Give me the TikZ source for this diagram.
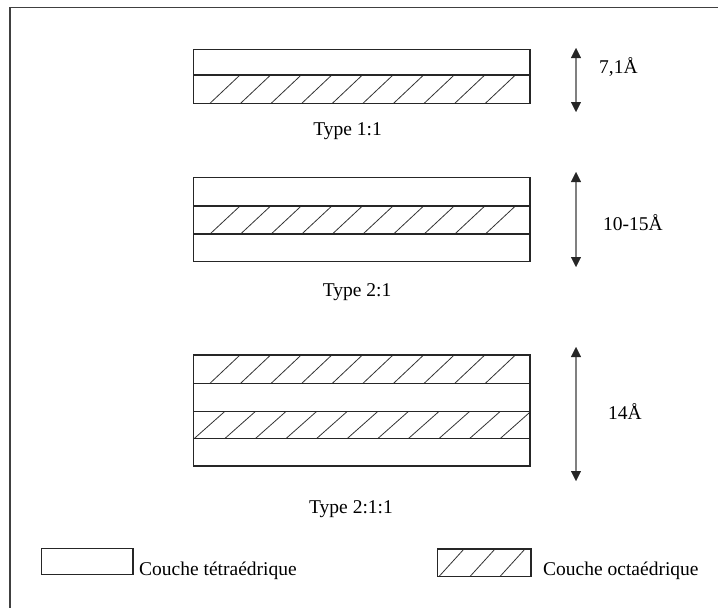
\documentclass[tikz,border=0pt]{standalone}
\usepackage{fontspec}
\setmainfont{Liberation Serif}
\usetikzlibrary{arrows.meta}
\begin{document}
\begin{tikzpicture}[x=1pt,y=-1pt,
  frameline/.style={line width=1.5pt,draw=black!75},
  layer/.style={line width=1.1pt,draw=black!85},
  hatch/.style={line width=0.8pt,draw=black!80},
  thick/.style={line width=1.3pt,draw=black!85},
  dimarrow/.style={line width=1.3pt,draw=black!50,
    {Triangle[length=10pt,width=10pt,color=black!85,line width=0.4pt]}-{Triangle[length=10pt,width=10pt,color=black!85,line width=0.4pt]}},
  lbl/.style={font=\fontsize{19.5}{22}\selectfont,inner sep=0pt,anchor=base}]
\useasboundingbox (0,0) rectangle (718,608);

% open frame: left and top sides only
\draw[frameline] (10,608) -- (10,7.5) -- (718,7.5);

% hatched strip: #1 = y top, #2 = y bottom, #3 = first foot x, #4 = last index
\newcommand{\hatchstrip}[4]{%
  \foreach \i in {0,...,#4}
    \draw[hatch] ({#3+30.6*\i},#2) -- ({#3+30.6*\i+30},#1);}

% ---- Type 1:1 ----
\hatchstrip{75}{103.3}{210}{9}
\draw[layer] (193.5,49.5) rectangle (530,103.3);
\draw[layer] (193.5,75) -- (530,75);
\coordinate (a1t) at (576,48);
\coordinate (a1b) at (576,112);
\draw[dimarrow] (a1t) -- (a1b);
\node[lbl,anchor=base west] (d1) at (599,73) {7,1Å};
\node[lbl] (t1) at (347.5,135) {Type 1:1};

% ---- Type 2:1 ----
\hatchstrip{206}{234}{210}{9}
\draw[layer] (193.5,177.7) rectangle (530,261.5);
\draw[layer] (193.5,206) -- (530,206);
\draw[layer] (193.5,234) -- (530,234);
\coordinate (a2t) at (576,172);
\coordinate (a2b) at (576,267);
\draw[dimarrow] (a2t) -- (a2b);
\node[lbl,anchor=base west] (d2) at (603,230) {10-15Å};
\node[lbl] (t2) at (357,296) {Type 2:1};

% ---- Type 2:1:1 ----
\hatchstrip{355}{383.3}{210}{9}
\hatchstrip{411.7}{438.3}{194.5}{10}
\draw[layer] (193.5,355) rectangle (530,466);
\draw[layer] (193.5,383.3) -- (530,383.3);
\draw[layer] (193.5,411.7) -- (530,411.7);
\draw[layer] (193.5,438.3) -- (530,438.3);
\coordinate (a3t) at (576,347);
\coordinate (a3b) at (576,481);
\draw[dimarrow] (a3t) -- (a3b);
\node[lbl,anchor=base west] (d3) at (608,419) {14Å};
\node[lbl] (t3) at (351,513) {Type 2:1:1};

% ---- legend ----
\draw[thick] (41.5,548.5) rectangle (133,574.5);
\node[lbl,anchor=base west] (k1) at (139,575) {Couche tétraédrique};
\foreach \x in {439,470,500}
  \draw[hatch] (\x,576.5) -- (\x+25,549);
\draw[thick] (437.5,549) rectangle (531,576.5);
\node[lbl,anchor=base west] (k2) at (543,575) {Couche octaédrique};
\end{tikzpicture}
\end{document}
